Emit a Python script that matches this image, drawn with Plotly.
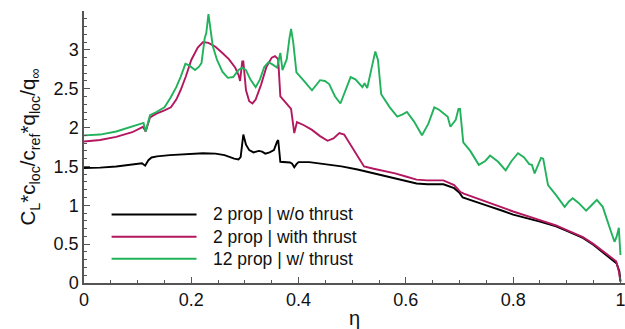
import plotly.graph_objects as go

# Spanwise loading distributions: eta = 2y/b, value = C_L*c_loc/c_ref*q_loc/q_inf
series_names = ["2 prop | w/o thrust", "2 prop | with thrust", "12 prop | w/ thrust"]
series_colors = ["#000000", "#b3175f", "#22b25c"]

eta_2p_off = [0.000, 0.030, 0.060, 0.090, 0.108, 0.114, 0.120, 0.126, 0.136, 0.160,
              0.190, 0.222, 0.245, 0.262, 0.280, 0.288, 0.292, 0.297, 0.302, 0.308,
              0.316, 0.326, 0.332, 0.338, 0.346, 0.354, 0.360, 0.362, 0.366, 0.372,
              0.384, 0.388, 0.392, 0.396, 0.400, 0.420, 0.450, 0.480, 0.510, 0.540,
              0.570, 0.600, 0.620, 0.640, 0.670, 0.690, 0.700, 0.706, 0.720, 0.750,
              0.780, 0.800, 0.850, 0.880, 0.900, 0.930, 0.950, 0.970, 0.983, 0.993,
              0.998, 1.000]
cl_2p_off = [1.48, 1.485, 1.50, 1.52, 1.54, 1.51, 1.58, 1.615, 1.63, 1.645,
             1.66, 1.67, 1.665, 1.645, 1.60, 1.59, 1.62, 1.91, 1.78, 1.71,
             1.68, 1.70, 1.69, 1.665, 1.68, 1.71, 1.82, 1.84, 1.56, 1.555,
             1.55, 1.535, 1.49, 1.53, 1.555, 1.555, 1.53, 1.50, 1.46, 1.41,
             1.36, 1.31, 1.28, 1.27, 1.27, 1.22, 1.16, 1.10, 1.07, 1.00,
             0.93, 0.88, 0.79, 0.73, 0.67, 0.58, 0.49, 0.38, 0.30, 0.25,
             0.15, 0.02]

eta_2p_on = [0.000, 0.030, 0.060, 0.090, 0.110, 0.115, 0.123, 0.135, 0.150, 0.162,
             0.172, 0.180, 0.190, 0.200, 0.212, 0.222, 0.232, 0.245, 0.258, 0.270,
             0.282, 0.288, 0.291, 0.295, 0.297, 0.302, 0.308, 0.314, 0.320, 0.330,
             0.340, 0.350, 0.356, 0.362, 0.366, 0.376, 0.386, 0.392, 0.397, 0.410,
             0.425, 0.440, 0.454, 0.465, 0.476, 0.485, 0.495, 0.510, 0.522, 0.540,
             0.560, 0.580, 0.600, 0.620, 0.640, 0.670, 0.690, 0.702, 0.708, 0.740,
             0.780, 0.800, 0.850, 0.880, 0.900, 0.930, 0.950, 0.970, 0.985, 0.992,
             0.997, 1.000]
cl_2p_on = [1.82, 1.84, 1.88, 1.94, 2.01, 1.95, 2.13, 2.18, 2.22, 2.26,
            2.36, 2.48, 2.66, 2.87, 3.03, 3.10, 3.09, 3.04, 2.96, 2.88,
            2.77, 2.68, 2.60, 2.85, 2.85, 2.48, 2.34, 2.31, 2.36, 2.55,
            2.78, 2.90, 2.92, 2.88, 2.40, 2.32, 2.24, 1.93, 2.07, 2.03,
            1.97, 1.89, 1.83, 1.86, 1.93, 1.91, 1.80, 1.62, 1.50, 1.47,
            1.44, 1.41, 1.37, 1.33, 1.32, 1.32, 1.26, 1.17, 1.15, 1.07,
            0.98, 0.92, 0.81, 0.74, 0.68, 0.59, 0.50, 0.39, 0.31, 0.28,
            0.15, 0.02]

eta_12p_on = [0.000, 0.030, 0.060, 0.090, 0.111, 0.115, 0.123, 0.135, 0.150, 0.161,
              0.172, 0.180, 0.189, 0.196, 0.207, 0.214, 0.219, 0.225, 0.228, 0.232,
              0.236, 0.240, 0.248, 0.258, 0.268, 0.278, 0.288, 0.295, 0.302, 0.310,
              0.320, 0.328, 0.336, 0.344, 0.352, 0.360, 0.364, 0.366, 0.370, 0.374,
              0.378, 0.383, 0.386, 0.390, 0.396, 0.410, 0.425, 0.440, 0.449, 0.457,
              0.468, 0.478, 0.488, 0.497, 0.506, 0.515, 0.519, 0.523, 0.528, 0.535,
              0.540, 0.543, 0.548, 0.554, 0.570, 0.584, 0.594, 0.602, 0.615, 0.630,
              0.642, 0.653, 0.662, 0.672, 0.678, 0.683, 0.693, 0.698, 0.701, 0.707,
              0.720, 0.736, 0.748, 0.757, 0.772, 0.786, 0.797, 0.809, 0.820, 0.830,
              0.835, 0.840, 0.846, 0.852, 0.856, 0.865, 0.880, 0.896, 0.904, 0.911,
              0.922, 0.936, 0.946, 0.956, 0.967, 0.975, 0.982, 0.989, 0.993, 0.997,
              1.000]
cl_12p_on = [1.90, 1.91, 1.95, 2.01, 2.06, 1.95, 2.16, 2.20, 2.26, 2.38,
             2.52, 2.65, 2.82, 2.80, 2.74, 2.78, 2.83, 3.15, 3.22, 3.46,
             3.25, 3.05, 2.87, 2.72, 2.64, 2.65, 2.74, 2.77, 2.74, 2.62,
             2.52, 2.62, 2.78, 2.84, 2.81, 2.77, 2.90, 2.96, 2.74, 2.80,
             2.88, 3.15, 3.27, 3.10, 2.71, 2.60, 2.48, 2.61, 2.60, 2.56,
             2.40, 2.31, 2.48, 2.65, 2.62, 2.54, 2.52, 2.57, 2.51, 2.73,
             2.90, 2.98, 2.87, 2.43, 2.26, 2.14, 2.17, 2.20, 2.08, 1.90,
             2.05, 2.26, 2.23, 2.17, 2.14, 2.01, 2.10, 2.24, 2.24, 1.81,
             1.70, 1.52, 1.57, 1.64, 1.56, 1.45, 1.57, 1.67, 1.62, 1.53,
             1.52, 1.41, 1.50, 1.61, 1.60, 1.26, 1.13, 0.98, 1.05, 1.09,
             1.03, 0.93, 1.00, 1.07, 0.98, 0.80, 0.67, 0.53, 0.60, 0.71,
             0.36]

x_tick_vals = [0, 0.2, 0.4, 0.6, 0.8, 1]
x_tick_text = ["0", "0.2", "0.4", "0.6", "0.8", "1"]
y_tick_vals = [0, 0.5, 1, 1.5, 2, 2.5, 3]
y_tick_text = ["0", "0.5", "1", "1.5", "2", "2.5", "3"]

FONT = "Liberation Sans, Arial, Helvetica, sans-serif"
AXIS_COLOR = "#555555"
TEXT_COLOR = "#111111"

fig = go.Figure()
all_series = [(eta_2p_off, cl_2p_off), (eta_2p_on, cl_2p_on), (eta_12p_on, cl_12p_on)]
for (xs, ys), name, color in zip(all_series, series_names, series_colors):
    fig.add_trace(go.Scatter(x=xs, y=ys, mode="lines", name=name,
                             line=dict(color=color, width=1.9),
                             showlegend=False))

# Hand-drawn legend block (long sample lines, text to the right)
legend_x0, legend_x1, legend_text_x = 0.051, 0.208, 0.234
legend_rows = [0.252, 0.170, 0.089]
for name, color, yrow in zip(series_names, series_colors, legend_rows):
    fig.add_shape(type="line", xref="paper", yref="paper",
                  x0=legend_x0, x1=legend_x1, y0=yrow, y1=yrow,
                  line=dict(color=color, width=1.9))
    fig.add_annotation(xref="paper", yref="paper", x=legend_text_x, y=yrow,
                       text=name, showarrow=False, xanchor="left", yanchor="middle",
                       font=dict(family=FONT, size=17.5, color=TEXT_COLOR))

common_axis = dict(showgrid=False, zeroline=False, showline=True,
                   linecolor=AXIS_COLOR, linewidth=1.5,
                   ticks="inside", ticklen=6, tickwidth=1.2, tickcolor=AXIS_COLOR,
                   ticklabeloverflow="allow",
                   tickfont=dict(family=FONT, size=18, color=TEXT_COLOR))

fig.update_xaxes(range=[0, 1.0085], tickvals=x_tick_vals, ticktext=x_tick_text,
                 minor=dict(dtick=0.05, ticks="inside", ticklen=3,
                            tickcolor=AXIS_COLOR, tickwidth=1),
                 title=dict(text="η", font=dict(family=FONT, size=20, color=TEXT_COLOR),
                            standoff=5),
                 **common_axis)
fig.update_yaxes(range=[0, 3.5], tickvals=y_tick_vals, ticktext=y_tick_text,
                 minor=dict(dtick=0.1, ticks="inside", ticklen=3,
                            tickcolor=AXIS_COLOR, tickwidth=1),
                 title=dict(text="C<sub>L</sub>*c<sub>loc</sub>/c<sub>ref</sub>*q<sub>loc</sub>/q<sub>∞</sub>",
                            font=dict(family=FONT, size=20.5, color=TEXT_COLOR),
                            standoff=12),
                 **common_axis)

fig.update_layout(width=625, height=329,
                  margin=dict(l=84, r=0, t=11, b=40),
                  paper_bgcolor="white", plot_bgcolor="white",
                  font=dict(family=FONT))

fig.write_html("out.html")
